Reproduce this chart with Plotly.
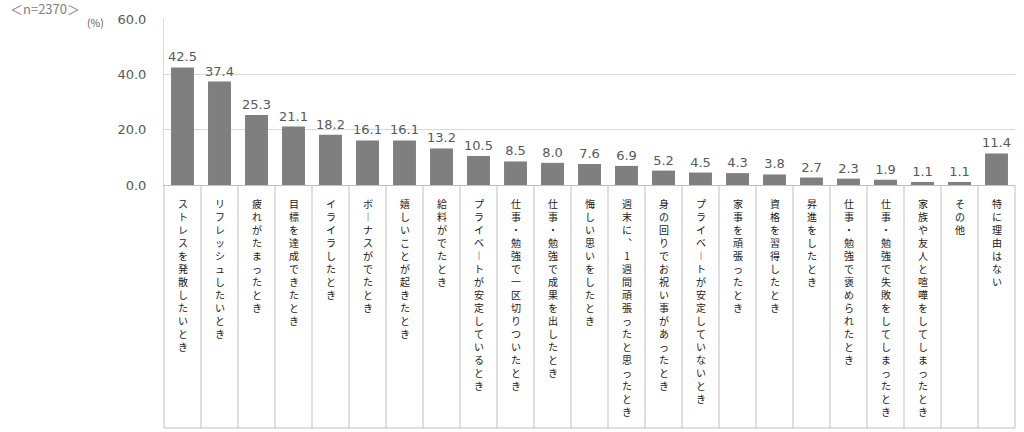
import plotly.graph_objects as go

categories = [
    "ストレスを発散したいとき", "リフレッシュしたいとき", "疲れがたまったとき", "目標を達成できたとき",
    "イライラしたとき", "ボーナスがでたとき", "嬉しいことが起きたとき", "給料がでたとき",
    "プライベートが安定しているとき", "仕事・勉強で一区切りついたとき", "仕事・勉強で成果を出したとき",
    "悔しい思いをしたとき", "週末に、1週間頑張ったと思ったとき", "身の回りでお祝い事があったとき",
    "プライベートが安定していないとき", "家事を頑張ったとき", "資格を習得したとき", "昇進をしたとき",
    "仕事・勉強で褒められたとき", "仕事・勉強で失敗をしてしまったとき", "家族や友人と喧嘩をしてしまったとき",
    "その他", "特に理由はない",
]
values = [42.5, 37.4, 25.3, 21.1, 18.2, 16.1, 16.1, 13.2, 10.5, 8.5, 8.0, 7.6, 6.9, 5.2, 4.5, 4.3, 3.8,
          2.7, 2.3, 1.9, 1.1, 1.1, 11.4]
y_ticks = [0, 20, 40, 60]
n_label = "＜n=2370＞"
unit_label = "(%)"

W, H = 1024, 432
L, R, T, B = 164, 9, 19, 247
plot_h = H - T - B
plot_w = W - L - R
table_bottom_px = 428
label_top_px = 194

vertical_map = {"ー": "︱", "、": "︑"}


def vertical(s):
    return "<br>".join(vertical_map.get(c, c) for c in s)


x_idx = list(range(len(categories)))

fig = go.Figure()
fig.add_trace(go.Bar(
    x=x_idx, y=values, width=0.62,
    marker=dict(color="#7f7f7f", line=dict(width=0)),
    text=values, texttemplate="%{y:.1f}", textposition="outside", constraintext="none",
    textfont=dict(family="DejaVu Sans", size=13, color="#595959"),
    cliponaxis=False, hoverinfo="skip",
))

n = len(categories)
y_bot = -(table_bottom_px - (H - B)) / plot_h
shapes = []
for i in range(n + 1):
    shapes.append(dict(type="line", xref="paper", yref="paper", x0=i / n, x1=i / n, y0=0, y1=y_bot,
                       line=dict(color="#bfbfbf", width=1)))
shapes.append(dict(type="line", xref="paper", yref="paper", x0=0, x1=1, y0=y_bot, y1=y_bot,
                   line=dict(color="#bfbfbf", width=1)))

annotations = []
y_lab = -(label_top_px - (H - B)) / plot_h
for i, c in enumerate(categories):
    annotations.append(dict(x=i, y=y_lab, xref="x", yref="paper", text=vertical(c), showarrow=False,
                            xanchor="center", yanchor="top", align="center",
                            font=dict(family="Noto Sans CJK JP", size=10, color="#1a1a1a")))
annotations.append(dict(x=(8 - L) / plot_w, y=1 + (T - 8) / plot_h,
                        xref="paper", yref="paper", text=n_label, showarrow=False,
                        xanchor="left", yanchor="middle",
                        font=dict(family="Noto Sans CJK JP", size=13, color="#7f7f7f")))
annotations.append(dict(x=(106 - L) / plot_w, y=1 + (T - 23) / plot_h,
                        xref="paper", yref="paper", text=unit_label, showarrow=False,
                        xanchor="right", yanchor="middle",
                        font=dict(family="Noto Sans CJK JP", size=10.5, color="#595959")))

fig.update_layout(
    width=W, height=H,
    margin=dict(l=L, r=R, t=T, b=B, pad=0),
    paper_bgcolor="white", plot_bgcolor="white",
    showlegend=False,
    shapes=shapes, annotations=annotations,
    xaxis=dict(range=[-0.5, n - 0.5], showticklabels=False, showgrid=False, zeroline=False,
               showline=True, linecolor="#bfbfbf", linewidth=1, ticks=""),
    yaxis=dict(range=[0, 60], tickvals=y_ticks, tickformat=".1f", showgrid=True, gridcolor="#d9d9d9",
               gridwidth=1, zeroline=False, showline=True, linecolor="#d9d9d9", linewidth=1,
               ticks="", ticklabelstandoff=14,
               tickfont=dict(family="DejaVu Sans", size=13, color="#595959")),
)

fig.write_html("out.html")
